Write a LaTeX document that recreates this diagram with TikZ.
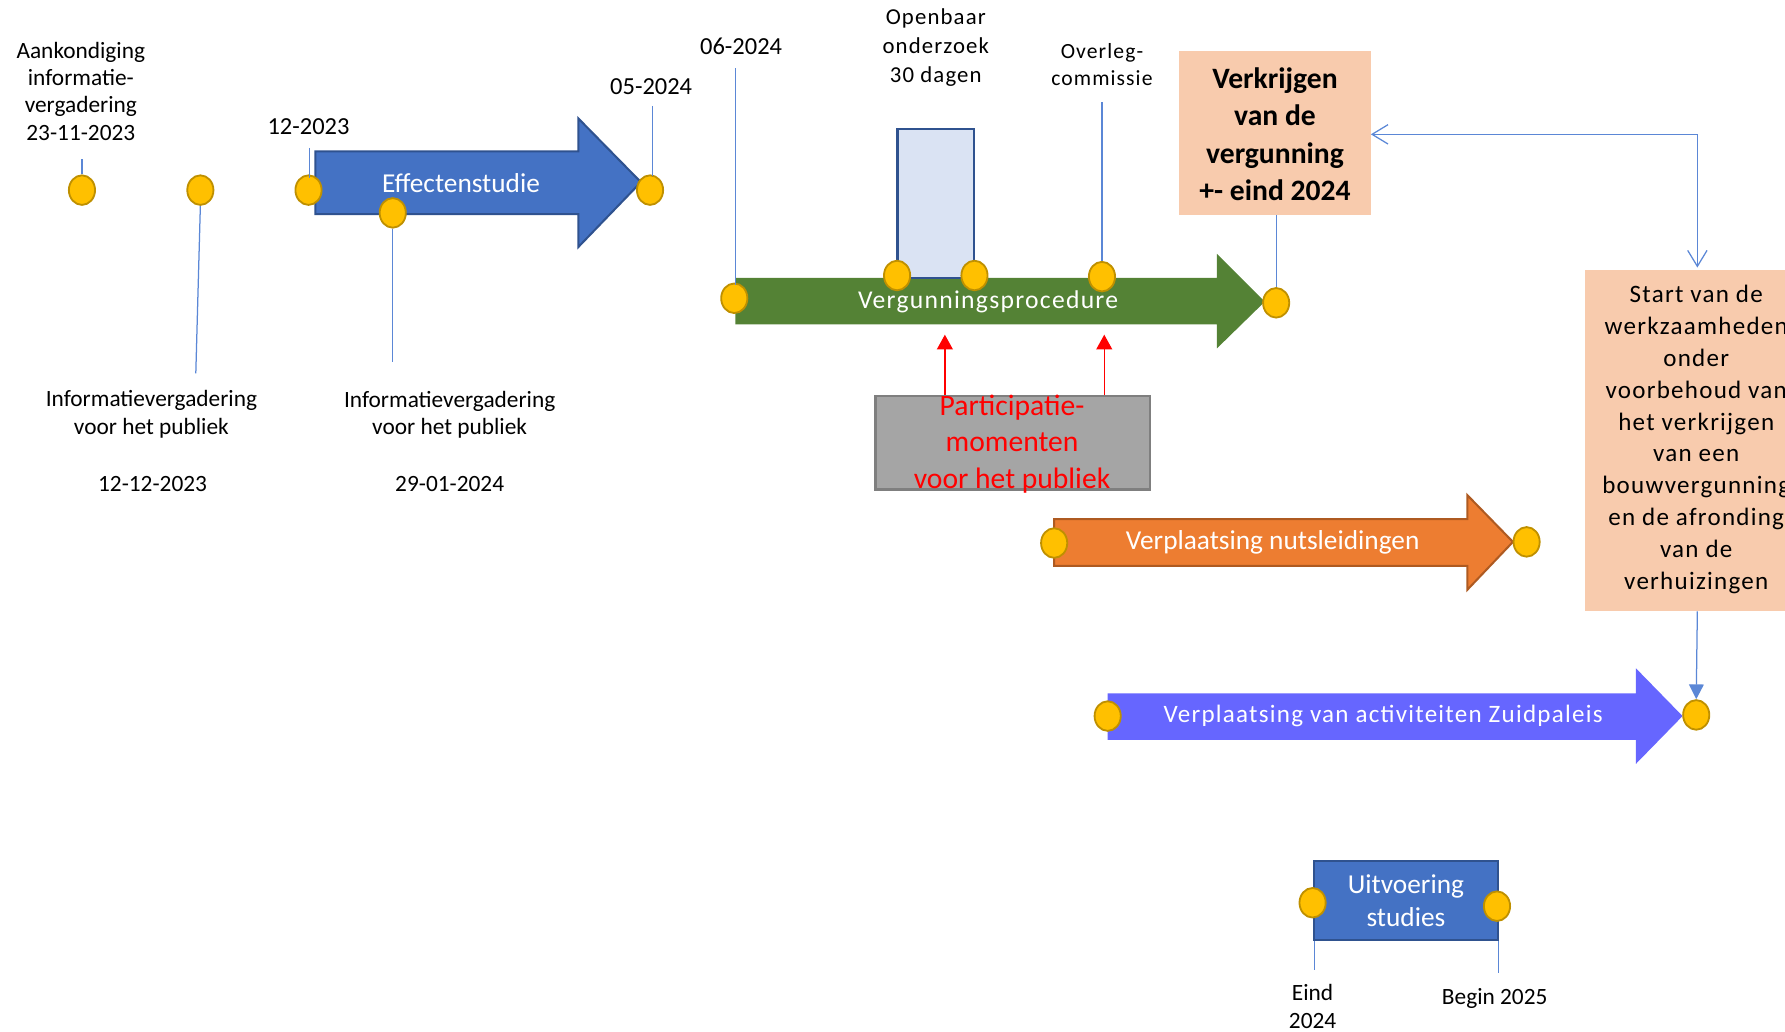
\documentclass[tikz,border=0pt]{standalone}
\usepackage{fontspec}
\setmainfont{Carlito}
\newfontfamily\spacedfont[LetterSpace=5]{Carlito}
\usetikzlibrary{arrows.meta,shapes.geometric}
\definecolor{cDot}{HTML}{FFC000}
\definecolor{cDotB}{HTML}{BF9000}
\definecolor{cBlue}{HTML}{4472C4}
\definecolor{cBlueD}{HTML}{2F528F}
\definecolor{cLine}{HTML}{5B87D6}
\definecolor{cLight}{HTML}{DAE3F3}
\definecolor{cGreen}{HTML}{548235}
\definecolor{cOrange}{HTML}{ED7D31}
\definecolor{cOrangeD}{HTML}{AE5A21}
\definecolor{cPurple}{HTML}{6666FF}
\definecolor{cPeach}{HTML}{F8CBAD}
\definecolor{cGray}{HTML}{A5A5A5}
\definecolor{cGrayD}{HTML}{7F7F7F}
\begin{document}
\begin{tikzpicture}[x=1pt,y=-1pt,
  milestone/.style={ellipse,fill=cDot,draw=cDotB,line width=1.6pt,minimum width=23pt,minimum height=26pt,inner sep=0pt},
  conn/.style={draw=cLine,line width=1.1pt},
  lbl/.style={font=\fontsize{20.5}{24}\selectfont,align=center,inner sep=0pt},
  datelbl/.style={font=\fontsize{21.5}{26}\selectfont,inner sep=0pt},
  arrtext/.style={text=white,font=\fontsize{24}{28}\selectfont,inner sep=0pt,align=center},
  bigarrow/.style={line width=1.8pt,line join=miter}
]
\useasboundingbox (0,0) rectangle (1568,906);

% ---------- Effectenstudie ----------
\draw[bigarrow,fill=cBlue,draw=cBlueD] (277,133) -- (508,133) -- (508,104) -- (563,160) -- (508,217) -- (508,188) -- (277,188) -- cycle;
\node[arrtext] (effect) at (405,161) {Effectenstudie};

% ---------- Vergunningsprocedure ----------
\fill[cGreen] (646,244) -- (1069,244) -- (1069,223) -- (1111,265) -- (1069,306) -- (1069,285) -- (646,285) -- cycle;
\node[arrtext,font=\spacedfont\fontsize{22.5}{26}\selectfont] (verg) at (868,265) {Vergunningsprocedure};

% ---------- Openbaar onderzoek ----------
\node[draw=cBlueD,fill=cLight,line width=2pt,minimum width=67pt,minimum height=131pt,inner sep=0pt] (openbox) at (822,178.5) {};
\node[lbl,font=\spacedfont\fontsize{20}{25.5}\selectfont] (openlbl) at (822,42) {Openbaar\\onderzoek\\30 dagen};

% ---------- Verkrijgen box ----------
\node[fill=cPeach,minimum width=168pt,minimum height=144pt,inner sep=0pt] (verkbox) at (1120,117) {};
\node[align=center,inner sep=0pt,font=\bfseries\fontsize{26}{33}\selectfont] (verklbl) at (1120,118) {Verkrijgen\\van de\\vergunning\\+- eind 2024};

% ---------- Start box ----------
\node[fill=cPeach,minimum width=200pt,minimum height=300pt,inner sep=0pt] (startbox) at (1492,387) {};
\node[align=center,inner sep=0pt,font=\spacedfont\fontsize{22}{28}\selectfont] (startlbl) at (1490,386) {Start van de\\werkzaamheden\\onder\\voorbehoud van\\het verkrijgen\\van een\\bouwvergunning\\en de afronding\\van de\\verhuizingen};

% ---------- Participatie ----------
\node[draw=cGrayD,fill=cGray,line width=2pt,minimum width=241pt,minimum height=82pt,inner sep=0pt] (partbox) at (889.5,389) {};
\node[align=center,inner sep=0pt,text=red,font=\fontsize{26}{32}\selectfont] (partlbl) at (889,390) {Participatie-\\momenten\\voor het publiek};

% ---------- Nutsleidingen ----------
\draw[bigarrow,fill=cOrange,draw=cOrangeD] (926,456) -- (1289,456) -- (1289,435) -- (1329,476) -- (1289,518) -- (1289,497) -- (926,497) -- cycle;
\node[arrtext,font=\fontsize{24}{28}\selectfont] (nuts) at (1118,476) {Verplaatsing nutsleidingen};

% ---------- Zuidpaleis ----------
\fill[cPurple] (973,609) -- (1437,609) -- (1437,587) -- (1478,629) -- (1437,671) -- (1437,650) -- (973,650) -- cycle;
\node[arrtext,font=\spacedfont\fontsize{22}{26}\selectfont] (zuid) at (1215,629) {Verplaatsing van activiteiten Zuidpaleis};

% ---------- Uitvoering studies ----------
\node[draw=cBlueD,fill=cBlue,line width=2pt,minimum width=162pt,minimum height=70pt,inner sep=0pt] (uitbox) at (1235,791) {};
\node[arrtext,font=\fontsize{24}{29}\selectfont] (uitlbl) at (1235,791) {Uitvoering\\studies};

% ---------- text labels ----------
\node[lbl] (aank) at (71,80) {Aankondiging\\informatie-\\vergadering\\23-11-2023};
\node[datelbl] (d1223) at (271,111) {12-2023};
\node[datelbl] (d0524) at (572,76) {05-2024};
\node[datelbl] (d0624) at (651,41) {06-2024};
\node[lbl,font=\spacedfont\fontsize{19}{24}\selectfont] (overleg) at (968,57) {Overleg-\\commissie};
\node[lbl] (info1) at (133,364) {Informatievergadering\\voor het publiek};
\node[lbl] (date1) at (134,425) {12-12-2023};
\node[lbl] (info2) at (395,364.5) {Informatievergadering\\voor het publiek};
\node[lbl] (date2) at (395,425) {29-01-2024};
\node[lbl] (eind) at (1153,884) {Eind\\2024};
\node[lbl] (begin) at (1313,877) {Begin 2025};

% ---------- milestones ----------
\node[milestone] (m1) at (72,167) {};
\node[milestone] (m2) at (176,167) {};
\node[milestone] (m3) at (271,167) {};
\node[milestone] (m4) at (345,187) {};
\node[milestone] (m5) at (571,167) {};
\node[milestone] (m6) at (645,262) {};
\node[milestone] (m7) at (788,242) {};
\node[milestone] (m8) at (856,242) {};
\node[milestone] (m9) at (968,243) {};
\node[milestone] (m10) at (1121,266) {};
\node[milestone] (m11) at (926,477) {};
\node[milestone] (m12) at (1341,476) {};
\node[milestone] (m13) at (973,629) {};
\node[milestone] (m14) at (1490,628) {};
\node[milestone] (m15) at (1153,793) {};
\node[milestone] (m16) at (1315,796) {};

% ---------- connector end points ----------
\coordinate (c1) at (72,140);
\coordinate (c2) at (172,328);
\coordinate (c3) at (272,130);
\coordinate (c4) at (345,318);
\coordinate (c5) at (573,93);
\coordinate (c6) at (646,60);
\coordinate (c9) at (968,90);
\coordinate (c15) at (1155,852);
\coordinate (c16) at (1316,855);
\coordinate (r1t) at (830,294);
\coordinate (r2t) at (970,294);

% ---------- connectors ----------
\draw[conn] (c1) -- (m1.north);
\draw[conn] (m2.south) -- (c2);
\draw[conn] (c3) -- (272,156);
\draw[conn] (m4.south) -- (c4);
\draw[conn] (c5) -- (573,155);
\draw[conn] (c6) -- (646,250);
\draw[conn] (c9) -- (m9.north);
\draw[conn] (verkbox.south -| m10) -- (m10.north);
\draw[conn] (uitbox.south -| c15) -- (c15);
\draw[conn] (uitbox.south -| c16) -- (c16);

\draw[conn,{Straight Barb[length=14pt,width=17pt]}-{Straight Barb[length=14pt,width=17pt]}]
  (verkbox.east |- 0,118) -- (1491,118) -- (1491,235);
\draw[conn,-{Triangle[length=13pt,width=13pt]},draw=cLine] (1491,537) -- (m14.north);

\draw[draw=red!85!white,line width=1.3pt,-{Triangle[length=13pt,width=14pt]},red] (partbox.north -| r1t) -- (r1t);
\draw[draw=red!85!white,line width=1.3pt,-{Triangle[length=13pt,width=14pt]},red] (partbox.north -| r2t) -- (r2t);
\end{tikzpicture}
\end{document}
